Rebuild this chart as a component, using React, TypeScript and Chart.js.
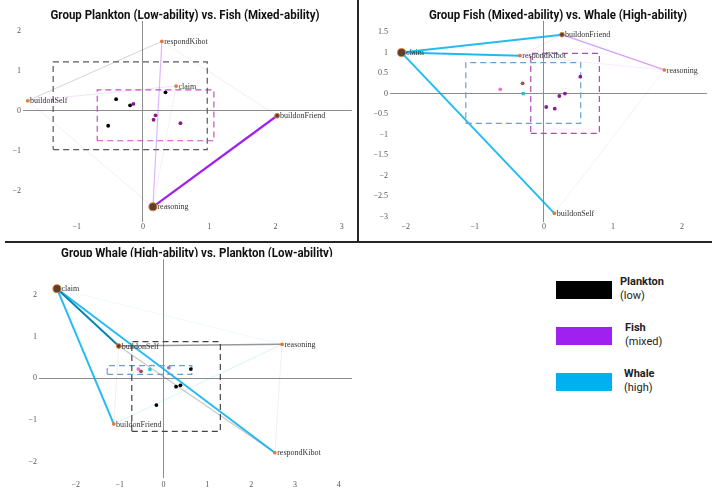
import React, { useEffect, useRef } from 'react';
import { Chart, registerables } from 'chart.js';
Chart.register(...registerables);

// ---------- Panel 1: Plankton (low) vs Fish (mixed) ----------
const p1Title = 'Group Plankton (Low-ability) vs. Fish (Mixed-ability)';
const p1Nodes = ['respondKibot', 'claim', 'buildonSelf', 'buildonFriend', 'reasoning'];
const p1NodeX = [0.285, 0.5, -1.739, 2.024, 0.15];
const p1NodeY = [1.735, 0.618, 0.25, -0.125, -2.4];
const p1NodeCount = [1, 1, 1, 2, 5];
const p1EdgeFrom = ['buildonSelf', 'respondKibot', 'buildonSelf', 'buildonSelf', 'respondKibot', 'reasoning', 'claim'];
const p1EdgeTo = ['respondKibot', 'buildonFriend', 'reasoning', 'claim', 'reasoning', 'buildonFriend', 'reasoning'];
const p1EdgeGroup = ['P', 'P', 'P', 'F', 'F', 'F', 'F'];
const p1EdgeWeight = [0.18, 0.05, 0.05, 0.1, 0.3, 1, 0.05];
const p1PlanktonX = [-0.405, -0.195, 0.34, -0.525];
const p1PlanktonY = [0.29, 0.135, 0.46, -0.375];
const p1FishX = [-0.145, 0.19, 0.16, 0.565];
const p1FishY = [0.17, -0.115, -0.225, -0.31];
const p1BoxPlankton = [-1.355, 0.97, -0.97, 1.22];
const p1BoxFish = [-0.69, 1.07, -0.75, 0.52];
const p1XTicks = [-1, 0, 1, 2, 3];
const p1YTicks = [-2, -1, 0, 1, 2];

// ---------- Panel 2: Fish (mixed) vs Whale (high) ----------
const p2Title = 'Group Fish (Mixed-ability) vs. Whale (High-ability)';
const p2Nodes = ['claim', 'buildonFriend', 'respondKibot', 'reasoning', 'buildonSelf'];
const p2NodeX = [-2.06, 0.262, -0.346, 1.744, 0.152];
const p2NodeY = [1.0, 1.437, 0.924, 0.576, -2.92];
const p2NodeCount = [5, 2, 1, 1, 1];
const p2EdgeFrom = ['claim', 'claim', 'claim', 'claim', 'buildonFriend', 'respondKibot', 'respondKibot', 'reasoning'];
const p2EdgeTo = ['buildonFriend', 'respondKibot', 'respondKibot', 'buildonSelf', 'reasoning', 'buildonFriend', 'reasoning', 'buildonSelf'];
const p2EdgeGroup = ['W', 'W', 'F', 'W', 'F', 'F', 'F', 'F'];
const p2EdgeWeight = [0.85, 0.85, 0.15, 0.85, 0.4, 0.08, 0.06, 0.05];
const p2FishX = [0.527, 0.305, 0.224, 0.034, 0.157];
const p2FishY = [0.412, 0.0, -0.059, -0.327, -0.368];
const p2WhalePinkX = [-0.631];
const p2WhalePinkY = [0.105];
const p2WhaleBrownX = [-0.308];
const p2WhaleBrownY = [0.251];
const p2WhaleMeanX = [-0.299];
const p2WhaleMeanY = [0.0];
const p2BoxWhale = [-1.13, 0.533, -0.724, 0.754];
const p2BoxFish = [-0.19, 0.803, -0.968, 0.983];
const p2XTicks = [-2, -1, 0, 1, 2];
const p2YTicks = [-3, -2.5, -2, -1.5, -1, -0.5, 0, 0.5, 1, 1.5];

// ---------- Panel 3: Whale (high) vs Plankton (low) ----------
const p3Title = 'Group Whale (High-ability) vs. Plankton (Low-ability)';
const p3Nodes = ['claim', 'buildonSelf', 'reasoning', 'buildonFriend', 'respondKibot'];
const p3NodeX = [-2.43, -1.021, 2.705, -1.134, 2.541];
const p3NodeY = [2.151, 0.776, 0.817, -1.095, -1.784];
const p3NodeCount = [5, 2, 1, 1, 1];
const p3EdgeFrom = ['claim', 'claim', 'claim', 'claim', 'buildonSelf', 'buildonSelf', 'claim', 'buildonFriend', 'buildonSelf', 'reasoning'];
const p3EdgeTo = ['buildonSelf', 'buildonSelf', 'buildonFriend', 'respondKibot', 'respondKibot', 'reasoning', 'reasoning', 'reasoning', 'buildonFriend', 'respondKibot'];
const p3EdgeGroup = ['P', 'W', 'W', 'W', 'P', 'P', 'W', 'W', 'P', 'P'];
const p3EdgeWeight = [0.45, 1, 0.85, 0.85, 0.25, 0.5, 0.04, 0.12, 0.05, 0.04];
const p3PlanktonX = [0.624, 0.386, 0.287, -0.162];
const p3PlanktonY = [0.224, -0.167, -0.2, -0.64];
const p3WhalePinkX = [-0.572];
const p3WhalePinkY = [0.224];
const p3WhaleBrownX = [-0.512];
const p3WhaleBrownY = [0.169];
const p3WhaleMeanX = [-0.31];
const p3WhaleMeanY = [0.217];
const p3WhaleVioletX = [0.123];
const p3WhaleVioletY = [0.256];
const p3BoxPlankton = [-0.723, 1.297, -1.271, 0.88];
const p3BoxWhale = [-1.284, 0.646, 0.097, 0.304];
const p3XTicks = [-2, -1, 0, 1, 2, 3, 4];
const p3YTicks = [-2, -1, 0, 1, 2];

// ---------- Legend ----------
const legendNames = ['Plankton', 'Fish', 'Whale'];
const legendSub = ['(low)', '(mixed)', '(high)'];

const GROUP_RGB: Record<string, string> = { P: '60,60,60', F: '160,32,240', W: '0,176,240' };

const pts = (xs: number[], ys: number[]) => xs.map((x, i) => ({ x, y: ys[i] }));
const boxPts = (b: number[]) => [
  { x: b[0], y: b[2] }, { x: b[1], y: b[2] }, { x: b[1], y: b[3] }, { x: b[0], y: b[3] }, { x: b[0], y: b[2] },
];

const labelPlugin = {
  id: 'nodeLabels',
  afterDatasetsDraw(chart: any) {
    const ctx = chart.ctx;
    chart.data.datasets.forEach((ds: any, i: number) => {
      if (!ds.nodeLabels) return;
      const meta = chart.getDatasetMeta(i);
      meta.data.forEach((el: any, j: number) => {
        const r = Array.isArray(ds.pointRadius) ? ds.pointRadius[j] : ds.pointRadius;
        ctx.save();
        ctx.font = '8px "Liberation Serif", serif';
        ctx.fillStyle = '#333';
        ctx.textBaseline = 'middle';
        ctx.textAlign = 'left';
        ctx.fillText(ds.nodeLabels[j], el.x + r + 0.5, el.y + 0.5);
        ctx.restore();
      });
    });
  },
};

interface Panel {
  nodes: string[]; nodeX: number[]; nodeY: number[]; nodeCount: number[];
  edgeFrom: string[]; edgeTo: string[]; edgeGroup: string[]; edgeWeight: number[];
  boxes: { b: number[]; color: string }[];
  markers: { xs: number[]; ys: number[]; color: string; style?: string; r?: number }[];
  xTicks: number[]; yTicks: number[];
  xMin: number; xMax: number; yMin: number; yMax: number;
  padTop: number; padRight: number; yAxisW: number; xAxisH: number; tickPad: number;
}

function buildConfig(p: Panel): any {
  const datasets: any[] = [];
  p.edgeFrom.forEach((f, i) => {
    const a = p.nodes.indexOf(f);
    const b = p.nodes.indexOf(p.edgeTo[i]);
    const w = p.edgeWeight[i];
    datasets.push({
      data: [{ x: p.nodeX[a], y: p.nodeY[a] }, { x: p.nodeX[b], y: p.nodeY[b] }],
      showLine: true,
      borderColor: `rgba(${GROUP_RGB[p.edgeGroup[i]]},${(0.06 + 0.94 * w).toFixed(3)})`,
      borderWidth: 0.7 + 1.5 * w,
      pointRadius: 0,
      fill: false,
      order: 3,
    });
  });
  p.boxes.forEach((bx) => {
    datasets.push({
      data: boxPts(bx.b),
      showLine: true,
      borderColor: bx.color,
      borderWidth: 1.2,
      borderDash: [6, 4],
      pointRadius: 0,
      fill: false,
      order: 2,
    });
  });
  p.markers.forEach((m) => {
    datasets.push({
      data: pts(m.xs, m.ys),
      backgroundColor: m.color,
      borderColor: m.color,
      borderWidth: 0,
      pointStyle: m.style || 'circle',
      pointRadius: m.r || 1.9,
      order: 1,
    });
  });
  datasets.push({
    data: pts(p.nodeX, p.nodeY),
    nodeLabels: p.nodes,
    pointRadius: p.nodeCount.map((c) => 1.3 + 0.55 * c),
    backgroundColor: p.nodeCount.map((c) => (c >= 2 ? '#5e3e2c' : '#e07a34')),
    borderColor: p.nodeCount.map((c) => (c >= 2 ? '#d8853f' : '#e07a34')),
    borderWidth: p.nodeCount.map((c) => (c >= 2 ? 1 : 0)),
    order: 0,
  });

  const tickFont = { family: '"Liberation Serif", serif', size: 8 };
  const fmt = (v: any) => String(v).replace('-', '\u2212');
  const grid = {
    color: (ctx: any) => (ctx.tick && ctx.tick.value === 0 ? '#8c8c8c' : 'rgba(0,0,0,0)'),
    drawTicks: false,
    lineWidth: 1,
  };
  return {
    type: 'scatter',
    data: { datasets },
    plugins: [labelPlugin],
    options: {
      animation: false,
      responsive: false,
      events: [],
      layout: { padding: { top: p.padTop, right: p.padRight, left: 0, bottom: 0 } },
      plugins: { legend: { display: false }, tooltip: { enabled: false }, title: { display: false } },
      scales: {
        x: {
          type: 'linear', min: p.xMin, max: p.xMax,
          border: { display: false }, grid,
          ticks: { font: tickFont, color: '#555', padding: p.tickPad, maxRotation: 0, callback: fmt },
          afterBuildTicks: (s: any) => { s.ticks = p.xTicks.map((v) => ({ value: v })); },
          afterFit: (s: any) => { s.height = p.xAxisH; },
        },
        y: {
          type: 'linear', min: p.yMin, max: p.yMax,
          border: { display: false }, grid,
          ticks: { font: tickFont, color: '#555', padding: 2, callback: fmt },
          afterBuildTicks: (s: any) => { s.ticks = p.yTicks.map((v) => ({ value: v })); },
          afterFit: (s: any) => { s.width = p.yAxisW; },
        },
      },
    },
  };
}

const panel1: Panel = {
  nodes: p1Nodes, nodeX: p1NodeX, nodeY: p1NodeY, nodeCount: p1NodeCount,
  edgeFrom: p1EdgeFrom, edgeTo: p1EdgeTo, edgeGroup: p1EdgeGroup, edgeWeight: p1EdgeWeight,
  boxes: [{ b: p1BoxPlankton, color: '#5a5a5a' }, { b: p1BoxFish, color: '#c84cc8' }],
  markers: [
    { xs: p1PlanktonX, ys: p1PlanktonY, color: '#000000' },
    { xs: p1FishX, ys: p1FishY, color: '#8a1a8a' },
  ],
  xTicks: p1XTicks, yTicks: p1YTicks,
  xMin: -1.81, xMax: 3.153, yMin: -2.78, yMax: 2.243,
  padTop: 21, padRight: 4, yAxisW: 23, xAxisH: 18, tickPad: 0,
};

const panel2: Panel = {
  nodes: p2Nodes, nodeX: p2NodeX, nodeY: p2NodeY, nodeCount: p2NodeCount,
  edgeFrom: p2EdgeFrom, edgeTo: p2EdgeTo, edgeGroup: p2EdgeGroup, edgeWeight: p2EdgeWeight,
  boxes: [{ b: p2BoxWhale, color: '#6a9fd0' }, { b: p2BoxFish, color: '#b248b2' }],
  markers: [
    { xs: p2FishX, ys: p2FishY, color: '#8a1a9a' },
    { xs: p2WhalePinkX, ys: p2WhalePinkY, color: '#f070d0' },
    { xs: p2WhaleBrownX, ys: p2WhaleBrownY, color: '#9a5050' },
    { xs: p2WhaleMeanX, ys: p2WhaleMeanY, color: '#20c4d4', style: 'rect', r: 2.3 },
  ],
  xTicks: p2XTicks, yTicks: p2YTicks,
  xMin: -2.227, xMax: 2.36, yMin: -3.124, yMax: 1.778,
  padTop: 20.7, padRight: 0, yAxisW: 31, xAxisH: 18.3, tickPad: 0,
};

const panel3: Panel = {
  nodes: p3Nodes, nodeX: p3NodeX, nodeY: p3NodeY, nodeCount: p3NodeCount,
  edgeFrom: p3EdgeFrom, edgeTo: p3EdgeTo, edgeGroup: p3EdgeGroup, edgeWeight: p3EdgeWeight,
  boxes: [{ b: p3BoxPlankton, color: '#444444' }, { b: p3BoxWhale, color: '#6a9fd0' }],
  markers: [
    { xs: p3PlanktonX, ys: p3PlanktonY, color: '#000000' },
    { xs: p3WhalePinkX, ys: p3WhalePinkY, color: '#f070d0' },
    { xs: p3WhaleBrownX, ys: p3WhaleBrownY, color: '#9a5050' },
    { xs: p3WhaleMeanX, ys: p3WhaleMeanY, color: '#20c4d4', style: 'rect', r: 2.3 },
    { xs: p3WhaleVioletX, ys: p3WhaleVioletY, color: '#a868e0' },
  ],
  xTicks: p3XTicks, yTicks: p3YTicks,
  xMin: -2.84, xMax: 4.3, yMin: -2.39, yMax: 2.857,
  padTop: 16.3, padRight: 0, yAxisW: 39, xAxisH: 10, tickPad: 2,
};

function PanelChart({ panel, left, top, width, height }: { panel: Panel; left: number; top: number; width: number; height: number }) {
  const ref = useRef<HTMLCanvasElement | null>(null);
  useEffect(() => {
    if (!ref.current) return;
    const chart = new Chart(ref.current, buildConfig(panel));
    return () => chart.destroy();
  }, [panel]);
  return (
    <canvas
      ref={ref}
      width={width}
      height={height}
      style={{ position: 'absolute', left, top, width, height }}
    />
  );
}

const titleStyle: React.CSSProperties = {
  position: 'absolute',
  width: 400,
  textAlign: 'center',
  font: 'bold 12.5px Roboto, "Liberation Sans", sans-serif',
  color: '#111',
  whiteSpace: 'nowrap',
  lineHeight: '16px',
  transform: 'scaleX(0.92)',
  transformOrigin: '50% 50%',
};

const legendColors = ['#000000', '#a020f0', '#00b0f0'];
const legendTops = [281, 327, 373];
const legendTextLeft = [620, 625, 624];

export default function App() {
  return (
    <div style={{ position: 'fixed', left: 0, top: 0, width: 712, height: 488, background: '#fff', overflow: 'hidden' }}>
      <PanelChart panel={panel1} left={0} top={0} width={357} height={240} />
      <PanelChart panel={panel2} left={359} top={0} width={353} height={240} />
      <PanelChart panel={panel3} left={0} top={243} width={357} height={245} />
      <div style={{ ...titleStyle, left: 184.5 - 200, top: 7 }}>{p1Title}</div>
      <div style={{ ...titleStyle, left: 557.7 - 200, top: 7 }}>{p2Title}</div>
      <div style={{ position: 'absolute', left: 196.7 - 200, top: 245, width: 400, height: 12, overflow: 'hidden' }}>
        <div style={{ ...titleStyle, position: 'static', lineHeight: '15px' }}>{p3Title}</div>
      </div>
      <div style={{ position: 'absolute', left: 357, top: 0, width: 2, height: 243, background: '#262626' }} />
      <div style={{ position: 'absolute', left: 5, top: 241, width: 707, height: 2, background: '#262626' }} />
      {legendNames.map((n, i) => (
        <React.Fragment key={n}>
          <div style={{ position: 'absolute', left: 556, top: legendTops[i], width: 56, height: 18, background: legendColors[i] }} />
          <div style={{ position: 'absolute', left: legendTextLeft[i], top: legendTops[i] - 6, font: '11px Roboto, sans-serif', lineHeight: '14px', color: '#222' }}>
            <div style={{ fontWeight: 'bold' }}>{n}</div>
            <div>{legendSub[i]}</div>
          </div>
        </React.Fragment>
      ))}
    </div>
  );
}
